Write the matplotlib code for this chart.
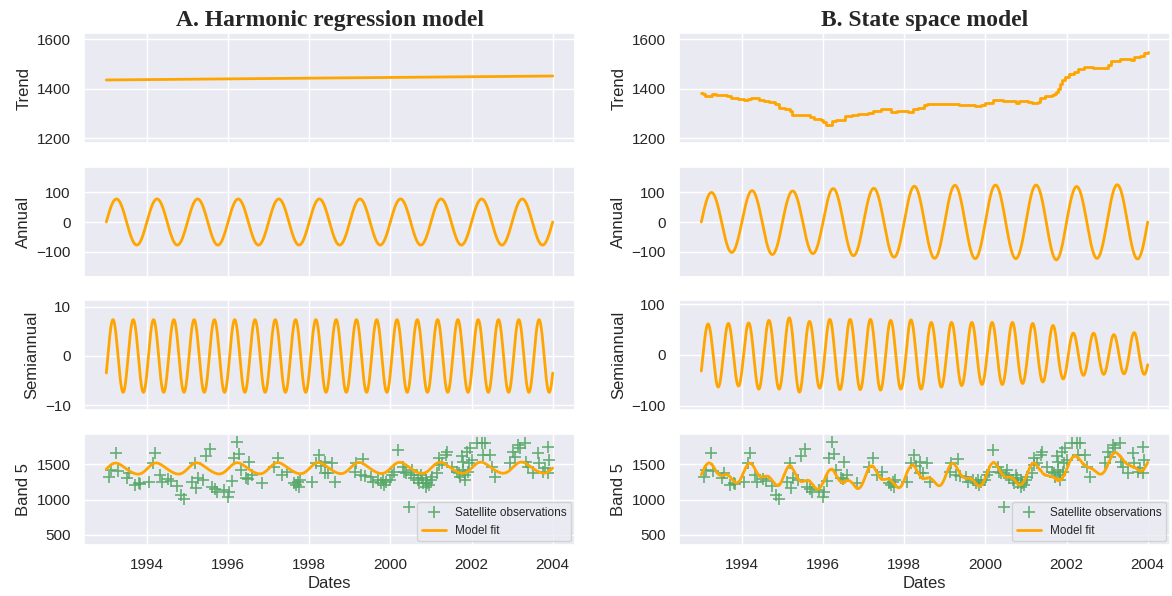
import numpy as np
import matplotlib
matplotlib.use("Agg")
import matplotlib.pyplot as plt
import seaborn as sns

sns.set_theme(style="darkgrid")
plt.rcParams['font.family'] = ['Liberation Sans', 'DejaVu Sans']

# ------------------------------------------------------
# Data
# ------------------------------------------------------
obs_dates = [
    1993.06, 1993.12, 1993.25, 1993.29, 1993.51, 1993.55, 1993.71, 1993.80, 1993.84,
    1994.04, 1994.15, 1994.20, 1994.32, 1994.37, 1994.53, 1994.59, 1994.73, 1994.85,
    1994.91, 1995.10, 1995.18, 1995.22, 1995.26, 1995.38, 1995.45, 1995.56, 1995.61,
    1995.67, 1995.72, 1995.91, 1995.99, 1996.03, 1996.10, 1996.21, 1996.15, 1996.26,
    1996.32, 1996.44, 1996.48, 1996.52, 1996.60, 1996.84, 1997.13, 1997.23, 1997.33,
    1997.45, 1997.62, 1997.67, 1997.72, 1997.78, 1997.74, 1998.06, 1998.16, 1998.24,
    1998.29, 1998.39, 1998.40, 1998.47, 1998.57, 1998.63, 1999.12, 1999.16, 1999.32,
    1999.28, 1999.37, 1999.53, 1999.57, 1999.69, 1999.76, 1999.81, 1999.85, 1999.89,
    1999.98, 2000.03, 2000.08, 2000.18, 2000.30, 2000.34, 2000.38, 2000.46, 2000.50,
    2000.53, 2000.59, 2000.67, 2000.71, 2000.75, 2000.79, 2000.81, 2000.87, 2000.89,
    2000.91, 2000.95, 2000.99, 2001.03, 2001.15, 2001.19, 2001.19, 2001.28, 2001.36,
    2001.40, 2001.52, 2001.64, 2001.68, 2001.72, 2001.76, 2001.79, 2001.80, 2001.84,
    2001.84, 2001.89, 2001.91, 2001.93, 2001.97, 2002.01, 2002.13, 2002.25, 2002.33,
    2002.29, 2002.45, 2002.50, 2002.58, 2002.94, 2003.02, 2003.06, 2003.15, 2003.20,
    2003.31, 2003.35, 2003.39, 2003.51, 2003.63, 2003.67, 2003.76, 2003.80, 2003.88,
    2003.92, 2003.88,
]
obs_vals = [
    1314, 1419, 1657, 1409, 1300, 1371, 1204, 1237, 1219,
    1252, 1523, 1657, 1347, 1252, 1286, 1266, 1190, 1061,
    1014, 1252, 1514, 1157, 1300, 1276, 1619, 1714, 1180,
    1143, 1109, 1133, 1038, 1109, 1266, 1823, 1586, 1647,
    1419, 1300, 1286, 1537, 1347, 1237, 1466, 1586, 1347,
    1395, 1228, 1204, 1252, 1276, 1180, 1243, 1514, 1633,
    1476, 1537, 1380, 1380, 1514, 1252, 1395, 1514, 1571,
    1347, 1333, 1323, 1252, 1276, 1228, 1276, 1204, 1252,
    1276, 1347, 1395, 1704, 1466, 1395, 1371, 894, 1347,
    1419, 1300, 1276, 1228, 1347, 1300, 1237, 1180, 1276,
    1228, 1204, 1276, 1323, 1371, 1490, 1586, 1514, 1633,
    1681, 1466, 1395, 1371, 1323, 1619, 1419, 1537, 1276,
    1347, 1681, 1395, 1514, 1729, 1561, 1800, 1800, 1809,
    1633, 1633, 1466, 1323, 1514, 1681, 1609, 1776, 1729,
    1800, 1537, 1466, 1371, 1657, 1514, 1395, 1443, 1752,
    1561, 1371,
]

# harmonic regression model (panel A)
hr_trend_dates = [1993.0, 2004.0]
hr_trend_vals = [1435, 1451]
hr_annual_amp = 78
hr_semi_amp = 7.4
hr_semi_phase_deg = -28

# state space model (panel B)
ss_trend_dates = [
    1993.00, 1993.05, 1993.10, 1993.24, 1993.26, 1993.37, 1993.64, 1993.73, 1993.91,
    1994.05, 1994.14, 1994.23, 1994.32, 1994.41, 1994.55, 1994.68, 1994.82, 1994.91,
    1995.05, 1995.18, 1995.23, 1995.36, 1995.59, 1995.68, 1995.77, 1995.95, 1996.01,
    1996.08, 1996.16, 1996.22, 1996.31, 1996.49, 1996.54, 1996.72, 1996.86, 1997.04,
    1997.10, 1997.22, 1997.44, 1997.58, 1997.67, 1997.81, 1998.03, 1998.09, 1998.21,
    1998.35, 1998.48, 1998.57, 1998.98, 1999.34, 1999.52, 1999.75, 1999.89, 1999.98,
    2000.14, 2000.20, 2000.38, 2000.43, 2000.66, 2000.75, 2000.84, 2001.06, 2001.15,
    2001.29, 2001.35, 2001.47, 2001.65, 2001.70, 2001.74, 2001.78, 2001.83, 2001.90,
    2001.97, 2002.06, 2002.19, 2002.28, 2002.42, 2002.55, 2002.65, 2002.92, 2003.01,
    2003.10, 2003.32, 2003.50, 2003.59, 2003.66, 2003.82, 2003.91, 2004.00,
]
ss_trend_vals = [
    1383, 1380, 1369, 1369, 1377, 1373, 1370, 1362, 1360,
    1354, 1358, 1362, 1362, 1354, 1351, 1345, 1339, 1323,
    1316, 1311, 1295, 1292, 1292, 1284, 1278, 1275, 1263,
    1254, 1254, 1267, 1272, 1273, 1290, 1292, 1298, 1298,
    1303, 1311, 1318, 1317, 1307, 1310, 1310, 1305, 1317,
    1323, 1333, 1338, 1337, 1335, 1333, 1329, 1335, 1342,
    1342, 1352, 1352, 1348, 1348, 1343, 1348, 1346, 1342,
    1346, 1363, 1371, 1373, 1378, 1386, 1400, 1420, 1436,
    1449, 1460, 1467, 1478, 1487, 1487, 1485, 1485, 1497,
    1510, 1519, 1519, 1517, 1528, 1533, 1544, 1548,
]
ss_annual_peaks = [100, 106, 105, 113, 114, 121, 124, 125, 125, 120, 126]
ss_annual_troughs = [103, 110, 107, 114, 119, 123, 124, 124, 128, 123, 125]
ss_semi_peaks = [61, 62, 63, 68, 73, 66, 70, 70, 70, 68, 69, 64, 64, 64, 64, 64,
                 62, 58, 43, 43, 40, 44]
ss_semi_troughs = [63, 61, 67, 67, 73, 65, 68, 68, 69, 67, 67, 63, 60, 58, 58, 56,
                   53, 47, 40, 38, 37, 38]
ss_semi_phase_deg = -30

year_ticks = [1994, 1996, 1998, 2000, 2002, 2004]
t = np.linspace(1993.0, 2004.0, 2201)


def lobes(t, freq, phase_deg, peaks, troughs):
    # sine basis with each positive/negative lobe scaled by its read amplitude
    ph = freq * (t - 1993.0) + phase_deg / 360.0
    idx = np.clip(np.floor(ph).astype(int), 0, len(peaks) - 1)
    s = np.sin(2 * np.pi * ph)
    return np.where(s > 0, np.array(peaks)[idx], np.array(troughs)[idx]) * s


def step_at(t, dates, vals):
    i = np.clip(np.searchsorted(dates, t, side='right') - 1, 0, len(vals) - 1)
    return np.array(vals)[i]


# harmonic model components
hr_trend = hr_trend_vals[0] + (hr_trend_vals[1] - hr_trend_vals[0]) * (t - 1993.0) / 11.0
hr_annual = hr_annual_amp * np.sin(2 * np.pi * (t - 1993.0))
hr_semi = hr_semi_amp * np.sin(2 * np.pi * 2 * (t - 1993.0) + np.radians(hr_semi_phase_deg))
hr_fit = hr_trend + hr_annual + hr_semi

# state space components
ss_trend = step_at(t, ss_trend_dates, ss_trend_vals)
ss_annual = lobes(t, 1, 0, ss_annual_peaks, ss_annual_troughs)
ss_semi = lobes(t, 2, ss_semi_phase_deg, ss_semi_peaks, ss_semi_troughs)
ss_fit = ss_trend + ss_annual + ss_semi

# ------------------------------------------------------
# Figure
# ------------------------------------------------------
W, H = 1172, 596
fig = plt.figure(figsize=(W / 100, H / 100), dpi=100)

col_x = [84, 679]
ax_w = 491
rows = [(33, 143), (167, 277), (300, 410), (434, 545)]

orange = '#FFA500'
green = '#55a868'
tick_fs = 11
lab_fs = 12

axes = []
for c in range(2):
    col = []
    for r, (top, bot) in enumerate(rows):
        ax = fig.add_axes([col_x[c] / W, 1 - bot / H, ax_w / W, (bot - top) / H])
        ax.set_xlim(1992.45, 2004.55)
        ax.set_xticks(year_ticks)
        ax.tick_params(labelsize=tick_fs, pad=3.5)
        if r < 3:
            ax.set_xticklabels([])
        col.append(ax)
    axes.append(col)

components = [
    (hr_trend, hr_annual, hr_semi, hr_fit, (-11, 11.4), [-10, 0, 10]),
    (ss_trend, ss_annual, ss_semi, ss_fit, (-108, 108), [-100, 0, 100]),
]
titles = ['A. Harmonic regression model', 'B. State space model']

for c in range(2):
    trend, annual, semi, fit, semi_lim, semi_ticks = components[c]
    a0, a1, a2, a3 = axes[c]

    if c == 0:
        a0.plot(hr_trend_dates, hr_trend_vals, color=orange, lw=2)
    else:
        a0.plot(ss_trend_dates, ss_trend_vals, color=orange, lw=2, drawstyle='steps-post')
    a0.set_ylim(1180, 1625)
    a0.set_yticks([1200, 1400, 1600])
    a0.set_ylabel('Trend', fontsize=lab_fs)
    a0.set_title(titles[c], fontsize=17, fontweight='bold',
                 family=['Liberation Serif', 'DejaVu Serif'], pad=5)

    a1.plot(t, annual, color=orange, lw=2)
    a1.set_ylim(-186, 186)
    a1.set_yticks([-100, 0, 100])
    a1.set_ylabel('Annual', fontsize=lab_fs)

    a2.plot(t, semi, color=orange, lw=2)
    a2.set_ylim(*semi_lim)
    a2.set_yticks(semi_ticks)
    a2.set_ylabel('Semiannual', fontsize=lab_fs)

    a3.plot(obs_dates, obs_vals, '+', color=green, ms=8, mew=1.2, alpha=0.9,
            label='Satellite observations')
    a3.plot(t, fit, color=orange, lw=2, label='Model fit')
    a3.set_ylim(355, 1930)
    a3.set_yticks([500, 1000, 1500])
    a3.set_ylabel('Band 5', fontsize=lab_fs)
    a3.set_xlabel('Dates', fontsize=lab_fs, labelpad=3)
    a3.legend(loc='lower right', fontsize=8.5, borderaxespad=0.3)

fig.savefig('out.png', dpi=100)
